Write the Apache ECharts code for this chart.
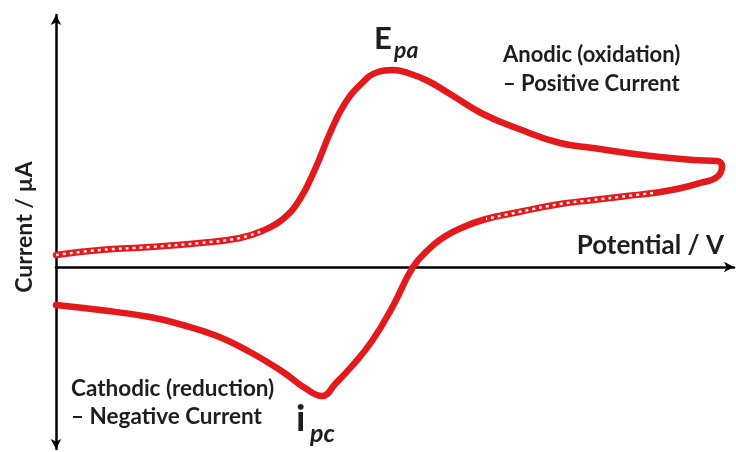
<!DOCTYPE html>
<html>
<head>
<meta charset="utf-8">
<script src="https://cdn.jsdelivr.net/npm/echarts@6/dist/echarts.min.js"></script>
<style>
html,body{margin:0;padding:0;background:#fff;}
#chart{width:736px;height:452px;}
</style>
</head>
<body>
<div id="chart"></div>
<script>
// Cyclic voltammogram (schematic): potential (arbitrary units) and current (arbitrary units)
var potential = [
  0.00, 0.44, 0.94, 1.44, 1.84, 2.06, 2.27, 2.44, 2.60, 2.74, 2.88, 3.05, 3.22, 3.37, 3.52, 3.72, 3.94,
  4.27, 4.63, 5.04, 5.37, 5.71, 6.04, 6.37, 6.61, 6.66,
  6.61, 6.44, 6.21, 5.97, 5.71, 5.37, 5.04, 4.63, 4.30, 4.05, 3.88, 3.74, 3.57, 3.37, 3.16, 2.96, 2.80, 2.66,
  2.49, 2.27, 1.94, 1.61, 1.27, 0.94, 0.44, 0.00
];
var current = [
  1.2, 1.7, 2.0, 2.4, 2.9, 3.6, 4.8, 6.8, 10.0, 13.4, 16.2, 18.3, 19.5, 19.7, 19.4, 18.6, 17.3,
  15.3, 13.8, 12.4, 11.9, 11.4, 11.0, 10.7, 10.6, 10.1,
  9.0, 8.4, 7.8, 7.4, 7.1, 6.7, 6.3, 5.5, 4.8, 3.9, 3.0, 1.9, 0.0, -3.9, -7.4, -9.9, -11.6, -12.9,
  -12.1, -10.5, -8.5, -6.9, -5.8, -5.0, -4.3, -3.8
];
// index ranges of the nearly flat (dashed-looking) baseline parts of the trace
var dashedForward = [0, 5];
var dashedReturn = [29, 34];

var xTitle = 'Potential / V';
var yTitle = 'Current / \u00b5A';
var anodicText = ['Anodic (oxidation)', '\u2013 Positive Current'];
var cathodicText = ['Cathodic (reduction)', '\u2013 Negative Current'];

var curve = potential.map(function (x, i) { return [x, current[i]]; });
var dashA = curve.slice(dashedForward[0], dashedForward[1] + 1);
var dashB = curve.slice(dashedReturn[0], dashedReturn[1] + 1);

var RED = '#e3191c';
var INK = '#1e1e1e';
var FONT = 'Lato';

var chart = echarts.init(document.getElementById('chart'));
chart.setOption({
  animation: false,
  backgroundColor: '#ffffff',
  grid: { left: 56, right: 2, top: 15, bottom: 3, containLabel: false },
  xAxis: {
    type: 'value', min: 0, max: 6.78,
    axisLine: { onZero: true, symbol: ['none', 'arrow'], symbolSize: [8, 10],
      lineStyle: { color: '#000', width: 2.5 } },
    axisTick: { show: false }, axisLabel: { show: false }, splitLine: { show: false }
  },
  yAxis: {
    type: 'value', min: -18.2, max: 25.2,
    axisLine: { show: true, symbol: ['arrow', 'arrow'], symbolSize: [8, 10],
      lineStyle: { color: '#000', width: 2.5 } },
    axisTick: { show: false }, axisLabel: { show: false }, splitLine: { show: false }
  },
  series: [
    { type: 'line', data: curve, smooth: 0.45, showSymbol: false, symbol: 'none',
      lineStyle: { color: RED, width: 6.5, cap: 'round', join: 'round' }, z: 3 },
    { type: 'line', data: dashA, smooth: 0.45, showSymbol: false, symbol: 'none',
      lineStyle: { color: '#ffffff', width: 2.5, type: [3, 4], opacity: 0.9 }, z: 4 },
    { type: 'line', data: dashB, smooth: 0.45, showSymbol: false, symbol: 'none',
      lineStyle: { color: '#ffffff', width: 2.5, type: [3, 4], opacity: 0.9 }, z: 4 }
  ],
  graphic: [
    { type: 'text', x: 724, y: 246, style: { text: xTitle, fill: INK,
      font: 'bold 26px ' + FONT, textAlign: 'right', textVerticalAlign: 'middle' } },
    { type: 'text', x: 25, y: 227, rotation: Math.PI / 2, style: { text: yTitle, fill: INK,
      font: 'bold 23px ' + FONT, textAlign: 'center', textVerticalAlign: 'middle' } },
    { type: 'text', x: 503, y: 55, style: { text: anodicText[0], fill: INK,
      font: 'bold 22px ' + FONT, textAlign: 'left', textVerticalAlign: 'middle' } },
    { type: 'text', x: 503, y: 84, style: { text: anodicText[1], fill: INK,
      font: 'bold 22px ' + FONT, textAlign: 'left', textVerticalAlign: 'middle' } },
    { type: 'text', x: 71, y: 389, style: { text: cathodicText[0], fill: INK,
      font: 'bold 22.5px ' + FONT, textAlign: 'left', textVerticalAlign: 'middle' } },
    { type: 'text', x: 71, y: 417, style: { text: cathodicText[1], fill: INK,
      font: 'bold 22.5px ' + FONT, textAlign: 'left', textVerticalAlign: 'middle' } },
    { type: 'text', x: 374, y: 39, style: { text: 'E', fill: INK,
      font: 'bold 31px ' + FONT, textAlign: 'left', textVerticalAlign: 'middle' } },
    { type: 'text', x: 394, y: 51, style: { text: 'pa', fill: INK,
      font: 'italic bold 23px ' + FONT, textAlign: 'left', textVerticalAlign: 'middle' } },
    { type: 'text', x: 296, y: 419, style: { text: 'i', fill: INK,
      font: 'bold 37px ' + FONT, textAlign: 'left', textVerticalAlign: 'middle' } },
    { type: 'text', x: 310, y: 434, style: { text: 'pc', fill: INK,
      font: 'italic bold 25px ' + FONT, textAlign: 'left', textVerticalAlign: 'middle' } }
  ]
});
</script>
</body>
</html>
